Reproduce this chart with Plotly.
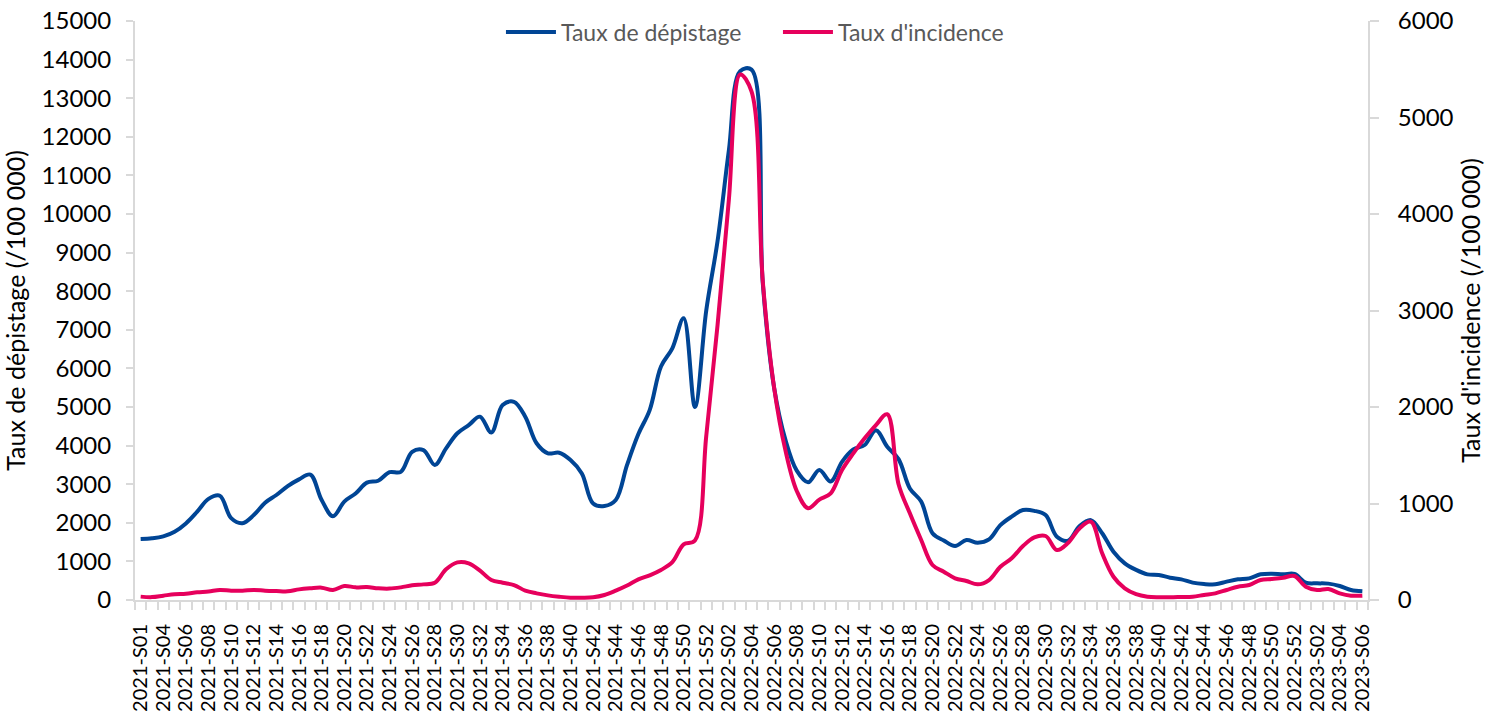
import plotly.graph_objects as go

weeks = (["2021-S01", "2021-S03"] + [f"2021-S{w:02d}" for w in range(4, 53)]
         + [f"2022-S{w:02d}" for w in range(1, 53)]
         + [f"2023-S{w:02d}" for w in range(1, 7)])

depistage = [1580, 1600, 1650, 1770, 1985, 2290, 2620, 2700, 2120, 1990,
             2200, 2520, 2720, 2950, 3125, 3250, 2590, 2170, 2550, 2760,
             3040, 3090, 3310, 3320, 3840, 3885, 3500, 3930, 4320, 4530,
             4750, 4340, 5050, 5135, 4750, 4060, 3800, 3815, 3625, 3280,
             2500, 2435, 2590, 3500, 4300, 4920, 6050, 6520, 7300, 5000,
             7500, 9300, 11650, 13700, 13740, 8200, 5500, 4150, 3350, 3050,
             3370, 3070, 3580, 3900, 4015, 4400, 3970, 3650, 2890, 2550,
             1730, 1540, 1400, 1555, 1485, 1570, 1940, 2160, 2330, 2310,
             2200, 1640, 1540, 1915, 2070, 1730, 1250, 950, 780, 665,
             648, 578, 535, 450, 414, 406, 475, 535, 561, 665,
             682, 665, 674, 450, 432, 424, 362, 259, 225]

incidence = [35, 30, 45, 60, 65, 80, 88, 104, 97, 97,
             104, 97, 93, 90, 110, 121, 128, 104, 145, 131,
             135, 121, 118, 131, 152, 162, 179, 318, 390, 380,
             304, 207, 179, 155, 97, 69, 48, 34, 24, 24,
             28, 52, 97, 150, 214, 256, 311, 392, 577, 617,
             1700, 2850, 4150, 5446, 5270, 3300, 2200, 1550, 1130, 950,
             1040, 1105, 1347, 1520, 1675, 1813, 1925, 1200, 898, 622,
             363, 293, 225, 197, 162, 207, 345, 432, 559, 649,
             663, 518, 594, 742, 811, 484, 241, 121, 60, 34,
             28, 28, 31, 34, 52, 69, 104, 138, 155, 207,
             218, 231, 249, 138, 104, 114, 69, 45, 45]

x_idx = list(range(len(weeks)))
tick_idx = x_idx[::2]
tick_txt = weeks[::2]

BLUE = "#004595"
PINK = "#E6005C"
AXIS = "#D9D9D9"
FONT = "Lato"

fig = go.Figure()
fig.add_trace(go.Scatter(x=x_idx, y=depistage, name="Taux de dépistage",
                         mode="lines", line=dict(color=BLUE, width=4, shape="spline", smoothing=1),
                         yaxis="y"))
fig.add_trace(go.Scatter(x=x_idx, y=incidence, name="Taux d'incidence",
                         mode="lines", line=dict(color=PINK, width=4, shape="spline", smoothing=1),
                         yaxis="y2"))

fig.update_layout(
    width=1497, height=720,
    margin=dict(l=135, r=129, t=21, b=120, autoexpand=False),
    paper_bgcolor="white", plot_bgcolor="white",
    font=dict(family=FONT, color="#000000"),
    showlegend=True,
    legend=dict(orientation="h", x=0.2968, xanchor="left", y=1.018, yanchor="top",
                font=dict(size=23, color="#595959", family=FONT), bgcolor="rgba(0,0,0,0)",
                itemwidth=50, entrywidth=212),
    xaxis=dict(range=[-0.5, len(weeks) - 0.5], tickmode="array", tickvals=tick_idx,
               ticktext=tick_txt, tickangle=-90, ticks="", showgrid=False, zeroline=False,
               showline=True, linecolor=AXIS, linewidth=2, ticklabelstandoff=14,
               ticklabeloverflow="allow",
               tickfont=dict(size=20, family=FONT, color="#000000"),
               minor=dict(ticks="outside", tick0=-0.5, dtick=1, ticklen=8,
                          tickcolor=AXIS, tickwidth=1.5, showgrid=False)),
    yaxis=dict(range=[0, 15000], dtick=1000, tickformat="d", ticks="outside", ticklen=7,
               tickcolor=AXIS, tickwidth=1.5, showline=True, linecolor=AXIS, linewidth=2,
               showgrid=False, zeroline=False, ticklabelstandoff=10, ticklabeloverflow="allow",
               tickfont=dict(size=24, family=FONT),
               title=dict(text="Taux de dépistage (/100 000)", font=dict(size=25, family=FONT),
                          standoff=30)),
    yaxis2=dict(range=[0, 6000], dtick=1000, tickformat="d", overlaying="y", side="right",
                ticks="outside", ticklen=9, tickcolor=AXIS, tickwidth=1.5, showline=True,
                linecolor=AXIS, linewidth=2, showgrid=False, zeroline=False,
                ticklabelstandoff=14, ticklabeloverflow="allow",
                tickfont=dict(size=24, family=FONT),
                title=dict(text="Taux d'incidence (/100 000)", font=dict(size=25, family=FONT),
                           standoff=10)),
)

fig.write_html("out.html", config={"displayModeBar": False},
               post_script="document.body.style.margin='0';document.body.style.overflow='hidden';")
